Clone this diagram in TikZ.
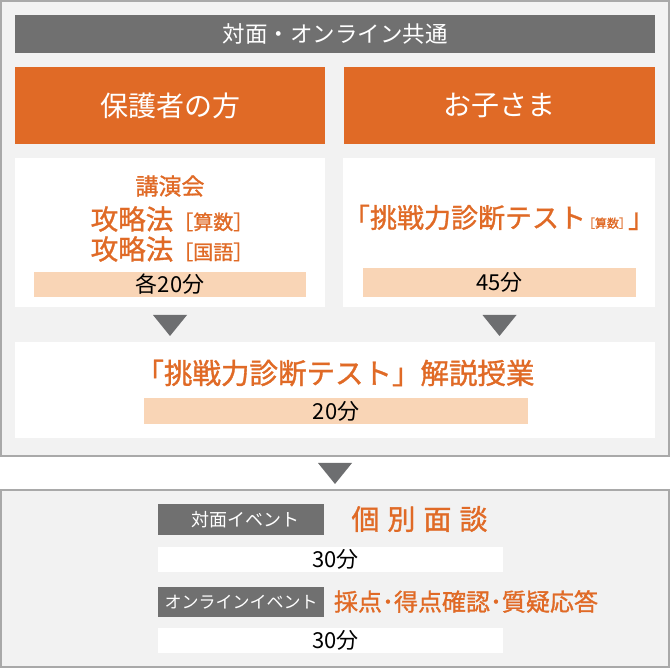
\documentclass[tikz,border=0pt]{standalone}
\usepackage{fontspec}
\setmainfont{Noto Sans CJK JP}
\newfontfamily\ofont[FakeBold=1.2]{Noto Sans CJK JP}
\definecolor{orng}{HTML}{E06A26}
\definecolor{peach}{HTML}{F9D5B6}
\definecolor{dgray}{HTML}{707070}
\definecolor{bggray}{HTML}{F2F2F2}
\definecolor{lgray}{HTML}{A9A9A9}
\definecolor{tgray}{HTML}{6D6E70}
\newcommand{\fsz}[1]{\fontsize{#1}{#1}\selectfont}

\begin{document}
\begin{tikzpicture}[x=1pt,y=-1pt,
  frame/.style={draw=lgray,line width=2pt,fill=bggray},
  blk/.style={rectangle,inner sep=0pt},
  hdbar/.style={blk,fill=dgray,text=white},
  obox/.style={blk,fill=orng,text=white,font=\fsz{28}},
  wbox/.style={blk,fill=white},
  pbar/.style={blk,fill=peach,font=\fsz{22}},
  otxt/.style={inner sep=0pt,text=orng,font=\ofont\fsz{27}}]
\useasboundingbox (0,0) rectangle (670,668);

\draw[frame] (1,1) rectangle (669,456);
\draw[frame] (1,490) rectangle (669,667);

\node[hdbar,font=\fsz{22.5},minimum width=640,minimum height=38] (head) at (335,34) {対面・オンライン共通};
\node[obox,minimum width=310,minimum height=77] (parent) at (170,105.5) {保護者の方};
\node[obox,minimum width=311,minimum height=77] (child) at (499.5,105.5) {お子さま};

\node[wbox,minimum width=310,minimum height=149] (pbody) at (170,232.5) {};
\node[wbox,minimum width=312,minimum height=149] (cbody) at (499,232.5) {};
\node[otxt,font=\ofont\fsz{23}] (lec) at (170,186) {講演会};
\node[otxt,font=\ofont\fsz{27.5}] (math) at (172,219) {攻略法{\fsz{20}［算数］}};
\node[otxt,font=\ofont\fsz{27.5}] (lang) at (172,249) {攻略法{\fsz{20}［国語］}};
\node[pbar,minimum width=272,minimum height=25] (ptime) at (170,284.5) {各20分};
\node[otxt] (test) at (499,217.5) {「挑戦力診断テスト{\fsz{12}\hspace{-3pt}［算数］\hspace{-3pt}}」};
\node[pbar,minimum width=273,minimum height=29] (ctime) at (499.5,282.5) {45分};

\foreach \x/\y in {170/315,499.5/315,335/463}
  \fill[tgray] (\x-17,\y) -- (\x+17,\y) -- (\x,\y+21) -- cycle;

\node[wbox,minimum width=640,minimum height=96] (expl) at (335,390) {};
\node[otxt,font=\ofont\fsz{28.5}] (extitle) at (335,373) {「挑戦力診断テスト」解説授業};
\node[pbar,minimum width=384,minimum height=26] (etime) at (336,411) {20分};

\node[hdbar,font=\fsz{18},minimum width=166,minimum height=31] (f2f) at (241,519.5) {\hspace*{8pt}対面イベント};
\node[otxt,font=\ofont\fsz{28}] (meet) at (419.5,519) {個\hspace{8pt}別\hspace{8pt}面\hspace{8pt}談};
\node[wbox,font=\fsz{22},minimum width=345,minimum height=25] (mtime) at (330.5,559.5) {\hspace*{10pt}30分};
\node[hdbar,font=\fsz{17},minimum width=166,minimum height=30] (onl) at (241,602) {オンラインイベント};
\node[otxt,font=\ofont\fsz{24}] (qa) at (466,601.5) {採点･得点確認･質疑応答};
\node[wbox,font=\fsz{22},minimum width=345,minimum height=25] (otime) at (330.5,640.5) {\hspace*{10pt}30分};
\end{tikzpicture}
\end{document}
